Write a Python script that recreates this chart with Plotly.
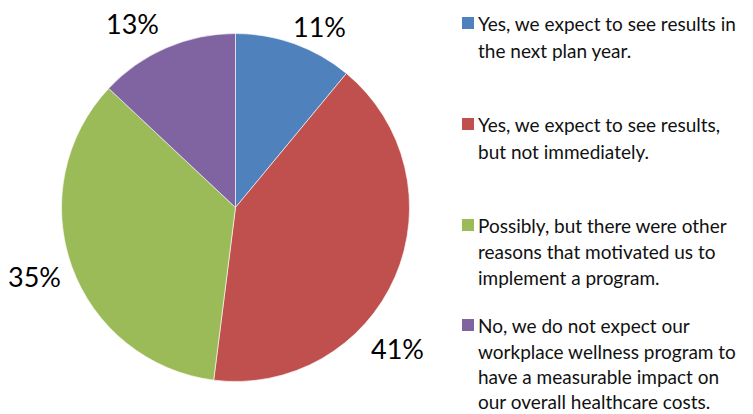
import math
import plotly.graph_objects as go

# Survey answers, their shares (percent) and slice colours
answers = [
    "Yes, we expect to see results in the next plan year.",
    "Yes, we expect to see results, but not immediately.",
    "Possibly, but there were other reasons that motivated us to implement a program.",
    "No, we do not expect our workplace wellness program to have a measurable impact on our overall healthcare costs.",
]
shares = [11, 41, 35, 13]
slice_colors = ["#4F81BD", "#C0504D", "#9BBB59", "#8064A2"]

# Wrapped legend text, one list of lines per answer
legend_lines = [
    ["Yes, we expect to see results in", "the next plan year."],
    ["Yes, we expect to see results,", "but not immediately."],
    ["Possibly, but there were other", "reasons that motivated us to", "implement a program."],
    ["No, we do not expect our", "workplace wellness program to",
     "have a measurable impact on", "our overall healthcare costs."],
]

W, H = 753, 414
cx, cy, r = 235.5, 207.5, 174          # pie centre and radius in pixels

# per-label placement tweaks: angular shift (deg) and radial factor
label_shift = [5.2, 17.8, 1.0, -6.0]
label_radius = [1.148, 1.234, 1.223, 1.211]

# legend layout (pixels)
legend_first_baseline = [30, 131, 232, 332]
legend_line_gap = [27, 27, 26, 25.3]
swatch_x, swatch_size, text_x = 462, 12, 477
legend_font = 19
label_font = 27


def px(x):
    return x / W


def py(y):
    return 1 - y / H


fig = go.Figure(
    go.Pie(
        labels=answers,
        values=shares,
        sort=False,
        direction="clockwise",
        rotation=0,
        marker=dict(colors=slice_colors, line=dict(color="white", width=0.6)),
        textinfo="none",
        hoverinfo="label+percent",
        domain=dict(x=[px(cx - r), px(cx + r)], y=[py(cy + r), py(cy - r)]),
        showlegend=False,
    )
)

annotations = []
shapes = []

# percentage labels outside the slices
total = sum(shares)
cum = 0
for i, v in enumerate(shares):
    mid = (cum + v / 2) / total * 360 + label_shift[i]
    cum += v
    k = label_radius[i] * r
    lx = cx + k * math.sin(math.radians(mid))
    ly = cy - k * math.cos(math.radians(mid))
    annotations.append(dict(
        x=px(lx), y=py(ly), xref="paper", yref="paper",
        text=f"{round(v / total * 100)}%", showarrow=False,
        xanchor="center", yanchor="middle",
        font=dict(family="Lato", size=label_font, color="#000000"),
    ))

# hand-drawn legend: colour swatch plus wrapped lines
for i, lines in enumerate(legend_lines):
    base = legend_first_baseline[i]
    shapes.append(dict(
        type="rect", xref="paper", yref="paper",
        x0=px(swatch_x), x1=px(swatch_x + swatch_size),
        y0=py(base - 1), y1=py(base - 1 - swatch_size),
        fillcolor=slice_colors[i], line=dict(width=0),
    ))
    for j, line in enumerate(lines):
        b = base + j * legend_line_gap[i]
        annotations.append(dict(
            x=px(text_x), y=py(b - 0.33 * legend_font), xref="paper", yref="paper",
            text=line, showarrow=False, xanchor="left", yanchor="middle",
            borderpad=0,
            font=dict(family="Lato", size=legend_font, color="#111111"),
        ))

fig.update_layout(
    width=W, height=H,
    margin=dict(l=0, r=0, t=0, b=0),
    paper_bgcolor="white", plot_bgcolor="white",
    annotations=annotations, shapes=shapes,
)

fig.write_html("out.html")
